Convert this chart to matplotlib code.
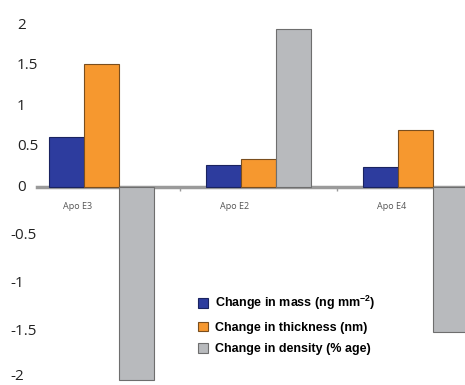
import numpy as np
import matplotlib
matplotlib.use("Agg")
import matplotlib.pyplot as plt
import matplotlib.transforms as mtransforms

# data
groups = ["Apo E3", "Apo E2", "Apo E4"]
mass = [0.62, 0.27, 0.25]
thickness = [1.52, 0.35, 0.71]
density = [-2.0, 1.95, -1.5]
series_names = [r"Change in mass (ng mm$^{-2}$)",
                "Change in thickness (nm)",
                "Change in density (% age)"]
ytick_vals = [2, 1.5, 1, 0.5, 0, -0.5, -1, -1.5, -2]
ytick_labels = ["2", "1.5", "1", "0.5", "0", "-0.5", "-1", "-1.5", "-2"]

colors = ["#2d3c9e", "#f6982f", "#b8babd"]
edges = ["#1a2360", "#7a4e1e", "#6e6e6e"]

plt.rcParams["mathtext.default"] = "regular"

# the original axis is stretched below zero
NEG = 1.19
def fwd(y):
    y = np.asarray(y, dtype=float)
    return np.where(y < 0, y * NEG, y)

def inv(y):
    y = np.asarray(y, dtype=float)
    return np.where(y < 0, y / NEG, y)

fig = plt.figure(figsize=(4.65, 3.85), dpi=100)
ax = fig.add_axes([37 / 465, 3 / 385, 428 / 465, 361 / 385])
ax.set_yscale("function", functions=(fwd, inv))

x = np.arange(len(groups))
w = 0.223
for i, vals in enumerate([mass, thickness, density]):
    ax.bar(x + (i - 1) * w, vals, w, color=colors[i], edgecolor=edges[i],
           linewidth=0.8, label=series_names[i], zorder=2)

ax.set_xlim(-0.408, 2.318)
ax.set_ylim(-2.02, 2.05)

for s in ["left", "right", "top"]:
    ax.spines[s].set_visible(False)
ax.spines["bottom"].set_position(("data", 0))
ax.spines["bottom"].set_color("#9a9a9a")
ax.spines["bottom"].set_linewidth(2.5)
ax.spines["bottom"].set_zorder(1)

ax.set_yticks([])
ax.set_xticks(x - 0.147)
ax.set_xticklabels(groups, fontsize=6.5, color="#555555", family="Open Sans")
ax.tick_params(axis="x", which="major", length=0, pad=11)
ax.set_xticks([0.5, 1.5], minor=True)
ax.tick_params(axis="x", which="minor", length=3, width=1, color="#9a9a9a")

# y labels are left aligned in the original, minus sign hanging out
trans = mtransforms.blended_transform_factory(fig.transFigure, ax.transData)
for v, lab in zip(ytick_vals, ytick_labels):
    xpos = 17 / 465 if v >= 0 else 10 / 465
    ypos = max(v, -1.96)
    ax.text(xpos, ypos, lab, transform=trans, ha="left", va="center",
            fontsize=11, family="Open Sans", color="#222222", clip_on=False)

leg = ax.legend(loc="upper left", bbox_to_anchor=(192 / 465, 1 - 288 / 385),
                bbox_transform=fig.transFigure, frameon=False,
                prop={"family": "Liberation Sans", "weight": "bold", "size": 9},
                handlelength=0.8, handleheight=0.8, handletextpad=0.5,
                labelspacing=0.75, borderpad=0)

fig.savefig("out.png", dpi=100)
